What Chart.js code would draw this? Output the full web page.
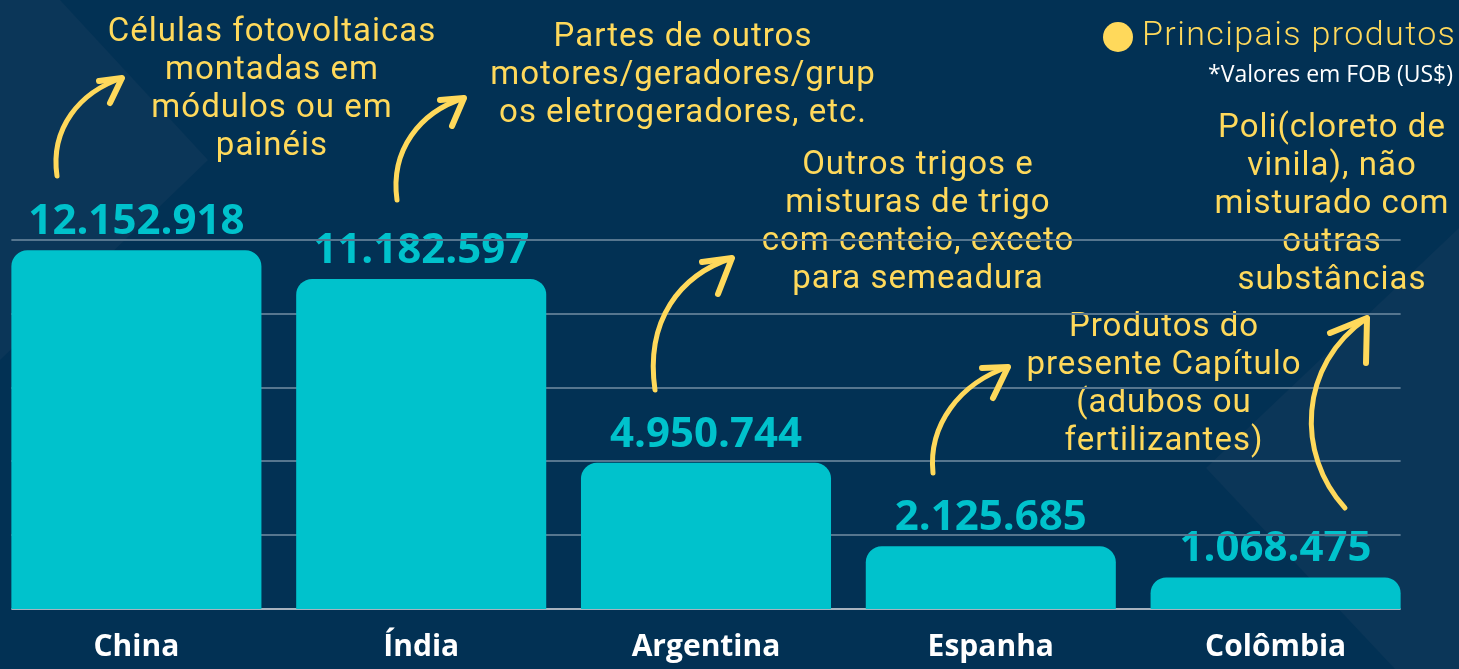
<!DOCTYPE html>
<html>
<head>
<meta charset="utf-8">
<script src="https://cdn.jsdelivr.net/npm/chart.js@4"></script>
<style>
  html, body { margin: 0; padding: 0; background: #023154; overflow: hidden; }
  #wrap { position: absolute; left: -6px; top: 0; width: 1465px; height: 669px; }
</style>
</head>
<body>
<div id="wrap"><canvas id="exportChart" width="1465" height="669"></canvas></div>
<script>
// paises e valores exportados (FOB, US$)
const categories = ["China", "Índia", "Argentina", "Espanha", "Colômbia"];
const exportValues = [12152918, 11182597, 4950744, 2125685, 1068475];

// principal produto de cada pais
const products = [
  ["Células fotovoltaicas", "montadas em", "módulos ou em", "painéis"],
  ["Partes de outros", "motores/geradores/grup", "os eletrogeradores, etc."],
  ["Outros trigos e", "misturas de trigo", "com centeio, exceto", "para semeadura"],
  ["Produtos do", "presente Capítulo", "(adubos ou", "fertilizantes)"],
  ["Poli(cloreto de", "vinila), não", "misturado com", "outras", "substâncias"]
];

const yMax = 12500000;
const yStep = 2500000;

const legendText = "Principais produtos";
const noteText = "*Valores em FOB (US$)";

const SHIFT = 6; // canvas starts 6px left of the page
const YELLOW = "#ffd95b";
const CYAN = "#00c2cc";

// where each product note sits (page px): center x, first line y
const notePos = [
  { x: 272, y: 33 },
  { x: 683, y: 38 },
  { x: 918, y: 166 },
  { x: 1164, y: 328 },
  { x: 1332, y: 129 }
];

// decorative arrows: start, two control points, tip, and arrow head arms
const arrows = [
  { p: [57, 176, 50, 128, 80, 92, 122, 78], a: [[-23, 3], [-12, 25]] },
  { p: [397, 200, 390, 150, 420, 112, 464, 98], a: [[-24, 2], [-12, 28]] },
  { p: [655, 390, 645, 320, 680, 275, 732, 258], a: [[-30, 4], [-14, 36]] },
  { p: [933, 473, 928, 425, 960, 383, 1008, 367], a: [[-26, 1], [-15, 31]] },
  { p: [1345, 508, 1296, 455, 1298, 365, 1367, 318], a: [[-37, 15], [-1, 45]] }
];

function fmt(v) {
  return String(v).replace(/\B(?=(\d{3})+(?!\d))/g, ".");
}

const decor = {
  id: "decor",
  beforeDraw(chart) {
    const c = chart.ctx;
    c.save();
    c.translate(SHIFT, 0);
    c.fillStyle = "#023154";
    c.fillRect(-SHIFT, 0, chart.width, chart.height);
    c.fillStyle = "#0b3658";
    c.beginPath();
    c.moveTo(0, 0); c.lineTo(60, 0); c.lineTo(208, 160); c.lineTo(0, 360);
    c.closePath(); c.fill();
    c.beginPath();
    c.moveTo(1459, 228); c.lineTo(1206, 468); c.lineTo(1395, 669); c.lineTo(1459, 669);
    c.closePath(); c.fill();
    c.restore();
  },
  beforeDatasetsDraw(chart) {
    const c = chart.ctx;
    const y = chart.scales.y;
    const bars = chart.getDatasetMeta(0).data;
    c.save();
    c.translate(SHIFT, 0);

    // product notes
    c.fillStyle = YELLOW;
    c.textAlign = "center";
    c.textBaseline = "middle";
    c.font = "400 33px Roboto";
    c.letterSpacing = "1px";
    products.forEach((lines, i) => {
      lines.forEach((t, k) => c.fillText(t, notePos[i].x, notePos[i].y + k * 38));
    });

    // legend
    c.beginPath();
    c.arc(1118, 37, 15, 0, Math.PI * 2);
    c.fill();
    c.textAlign = "left";
    c.font = "300 34px Roboto";
    c.letterSpacing = "1.4px";
    c.fillText(legendText, 1142, 36);
    c.fillStyle = "#ffffff";
    c.textAlign = "right";
    c.font = "400 23px 'Open Sans'";
    c.letterSpacing = "0px";
    c.fillText(noteText, 1453, 75);
    c.restore();

    // value labels
    c.save();
    c.fillStyle = CYAN;
    c.textAlign = "center";
    c.textBaseline = "alphabetic";
    c.font = "700 42px 'Open Sans'";
    bars.forEach((b, i) => c.fillText(fmt(exportValues[i]), b.x, b.y - 16));

    // grid lines between first and last bar
    const left = bars[0].x - bars[0].width / 2;
    const right = bars[bars.length - 1].x + bars[bars.length - 1].width / 2;
    y.ticks.forEach(t => {
      const py = Math.round(y.getPixelForValue(t.value));
      c.beginPath();
      c.moveTo(left, py);
      c.lineTo(right, py);
      c.strokeStyle = t.value === 0 ? "#a7b3bf" : "#56768f";
      c.lineWidth = 2;
      c.stroke();
    });
    c.restore();

    // arrows
    c.save();
    c.translate(SHIFT, 0);
    c.strokeStyle = YELLOW;
    c.lineWidth = 5;
    c.lineCap = "round";
    c.lineJoin = "round";
    arrows.forEach(ar => {
      const p = ar.p;
      c.beginPath();
      c.moveTo(p[0], p[1]);
      c.bezierCurveTo(p[2], p[3], p[4], p[5], p[6], p[7]);
      c.stroke();
      c.lineWidth = 6;
      c.beginPath();
      c.moveTo(p[6] + ar.a[0][0], p[7] + ar.a[0][1]);
      c.lineTo(p[6], p[7]);
      c.lineTo(p[6] + ar.a[1][0], p[7] + ar.a[1][1]);
      c.stroke();
      c.lineWidth = 5;
    });
    c.restore();
  }
};

const config = {
  type: "bar",
  data: {
    labels: categories,
    datasets: [{
      label: "Exportações",
      data: exportValues,
      backgroundColor: CYAN,
      borderRadius: { topLeft: 16, topRight: 16 },
      borderSkipped: "start",
      barPercentage: 0.878,
      categoryPercentage: 1
    }]
  },
  options: {
    responsive: false,
    animation: false,
    devicePixelRatio: 1,
    layout: { padding: { top: 240, right: 41, left: 0, bottom: 0 } },
    plugins: {
      legend: { display: false },
      tooltip: { enabled: false }
    },
    scales: {
      x: {
        grid: { display: false, drawTicks: false },
        border: { display: false },
        ticks: {
          color: "#ffffff",
          font: { family: "'Open Sans'", weight: "bold", size: 30 },
          padding: 20
        },
        afterFit(s) { s.height = 60; }
      },
      y: {
        display: false,
        min: 0,
        max: yMax,
        ticks: { stepSize: yStep }
      }
    }
  },
  plugins: [decor]
};

var exportChart = new Chart(document.getElementById("exportChart").getContext("2d"), config);
</script>
</body>
</html>
